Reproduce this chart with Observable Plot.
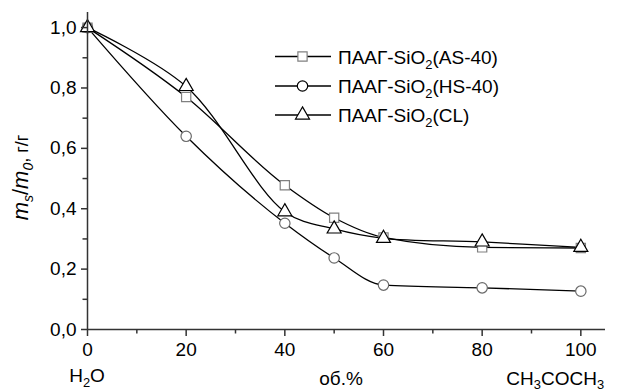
<!DOCTYPE html>
<html><head><meta charset="utf-8">
<script src="https://cdn.jsdelivr.net/npm/d3@7"></script>
<script src="https://cdn.jsdelivr.net/npm/@observablehq/plot@0.6"></script>
<style>
body{margin:0;background:#fff}
#chart svg{font-family:"Liberation Sans",Arial,sans-serif;background:#fff;overflow:visible}
</style>
</head><body><div id="chart"></div>
<script>
// x: acetone content, об.%
const xValues = [0, 20, 40, 50, 60, 80, 100];
// m_s/m_0, г/г
const seriesAS = [1.0, 0.77, 0.478, 0.37, 0.305, 0.272, 0.27];
const seriesHS = [1.0, 0.64, 0.352, 0.237, 0.147, 0.138, 0.127];
const seriesCL = [1.0, 0.805, 0.39, 0.333, 0.302, 0.29, 0.272];
const seriesKeys = ["AS-40", "HS-40", "CL"];
const seriesSymbols = ["square", "circle", "triangle"];
const seriesCurves = ["monotone-x", "monotone-x", "catmull-rom"];
const seriesStroke = ["#808080", "#6a6a6a", "#000000"];
const legendStroke = ["#808080", "#000000", "#000000"];
const xTicks = [0, 20, 40, 60, 80, 100];
const xMinorTicks = [10, 30, 50, 70, 90];
const yTicks = [0, 0.2, 0.4, 0.6, 0.8, 1.0];
const yMinorTicks = [0.1, 0.3, 0.5, 0.7, 0.9];

const seriesValues = [seriesAS, seriesHS, seriesCL];
const data = [];
seriesKeys.forEach((k, i) => xValues.forEach((x, j) => data.push({series: k, x, y: seriesValues[i][j]})));

const fmtY = d => d3.format(".1f")(d).replace(".", ",");
const axisColor = "#333";
const R = 5.2;

const plot = Plot.plot({
  width: 617,
  height: 392,
  marginLeft: 87,
  marginRight: 12,
  marginTop: 12,
  marginBottom: 63,
  x: {domain: [0, 105]},
  y: {domain: [0, 1.05]},
  symbol: {domain: seriesKeys, range: seriesSymbols},
  color: {domain: seriesKeys, range: seriesStroke},
  style: {fontFamily: "'Liberation Sans', Arial, sans-serif", color: "#000"},
  marks: [
    ...seriesKeys.map((k, i) => Plot.line(data.filter(d => d.series === k),
      {x: "x", y: "y", curve: seriesCurves[i], stroke: "#000", strokeWidth: 1.3})),
    Plot.dot(data, {x: "x", y: "y", symbol: "series", stroke: "series", fill: "white", r: R, strokeWidth: 1.2}),
    Plot.ruleY([0], {stroke: axisColor, strokeWidth: 1.5}),
    Plot.ruleX([0], {stroke: axisColor, strokeWidth: 1.5}),
    Plot.axisX(xTicks, {tickSize: 7, tickPadding: 6, fontSize: 19, stroke: axisColor, strokeWidth: 1.5, label: null, tickFormat: d => String(d)}),
    Plot.axisX(xMinorTicks, {tickSize: 4.5, stroke: axisColor, strokeWidth: 1.5, label: null, tickFormat: () => ""}),
    Plot.axisY(yTicks, {tickSize: 6, tickPadding: 5, fontSize: 19, stroke: axisColor, strokeWidth: 1.5, label: null, tickFormat: fmtY}),
    Plot.axisY(yMinorTicks, {tickSize: 4.5, stroke: axisColor, strokeWidth: 1.5, label: null, tickFormat: () => ""})
  ]
});

document.getElementById("chart").appendChild(plot);

const svg = d3.select(plot);
const sx = plot.scale("x");
const FF = "'Liberation Sans', Arial, sans-serif";

function subText(parent, x, y, anchor, parts, size) {
  const t = parent.append("text").attr("x", x).attr("y", y).attr("text-anchor", anchor)
    .attr("font-family", FF).attr("font-size", size).attr("fill", "#000");
  parts.forEach(p => {
    const ts = t.append("tspan").text(p.t);
    if (p.size) ts.attr("font-size", p.size);
    if (p.sub) { ts.attr("dy", p.dy || 5); if (!p.size) ts.attr("font-size", size * 0.68); }
    if (p.up) ts.attr("dy", -(p.dy || 5));
    if (p.it) ts.attr("font-style", "italic");
  });
  return t;
}
// Bottom labels
subText(svg, sx.apply(0), 382, "middle", [{t: "H"}, {t: "2", sub: true}, {t: "O", up: true}], 19);
subText(svg, sx.apply(51.5), 385, "middle", [{t: "об.%"}], 19);
subText(svg, sx.apply(85), 385, "start", [{t: "CH"}, {t: "3", sub: true, dy: 4}, {t: "COCH", up: true, dy: 4}, {t: "3", sub: true, dy: 4}], 19);

// Y label
const yl = svg.append("g").attr("transform", `translate(28,177.5) rotate(-90)`);
subText(yl, 0, 0, "middle", [
  {t: "m", it: true, size: 22}, {t: "s", it: true, sub: true, size: 14, dy: 5}, {t: "/", up: true, size: 22, dy: 5},
  {t: "m", it: true, size: 22}, {t: "0", it: true, sub: true, size: 14, dy: 5}, {t: ", г/г", up: true, size: 18, dy: 5}
], 19);

// Legend
const legend = svg.append("g");
const legY = [56.5, 86, 115];
seriesKeys.forEach((k, i) => {
  const y = legY[i];
  legend.append("line").attr("x1", 275).attr("x2", 331).attr("y1", y).attr("y2", y)
    .attr("stroke", "#000").attr("stroke-width", 1.3);
  const type = {square: d3.symbolSquare, circle: d3.symbolCircle, triangle: d3.symbolTriangle}[seriesSymbols[i]];
  legend.append("path").attr("d", d3.symbol(type, Math.PI * R * R)())
    .attr("transform", `translate(302.5,${y})`)
    .attr("fill", "white").attr("stroke", legendStroke[i]).attr("stroke-width", 1.2);
  subText(legend, 338, y + 7, "start", [{t: "ПААГ-SiO"}, {t: "2", sub: true}, {t: "(" + k + ")", up: true}], 19);
});
</script>
</body></html>
